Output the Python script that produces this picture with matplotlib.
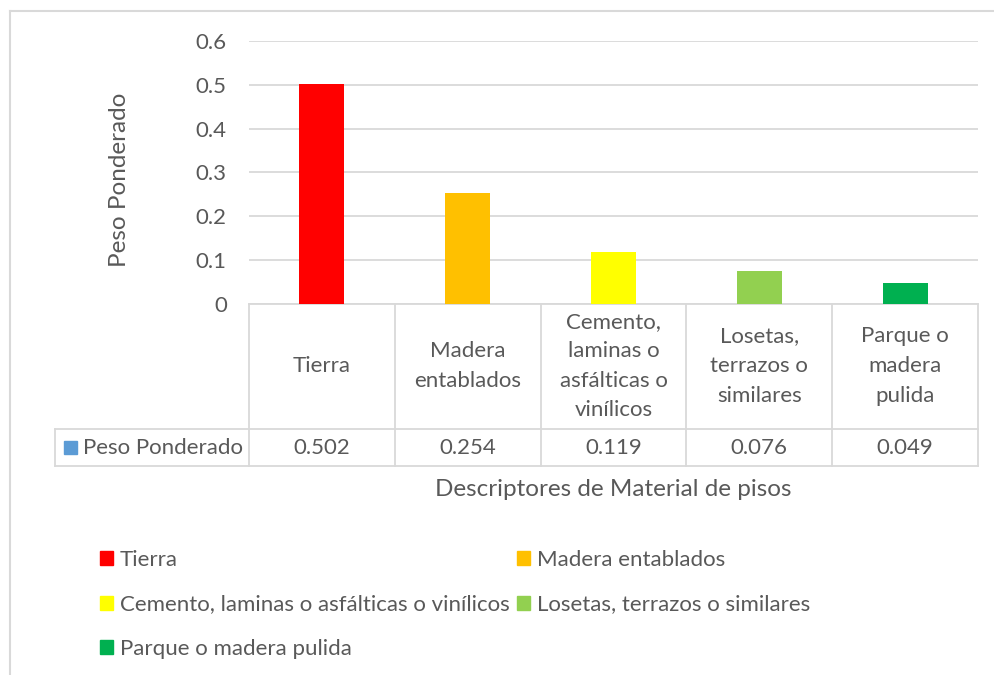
import matplotlib
matplotlib.use("Agg")
import matplotlib.pyplot as plt
from matplotlib.lines import Line2D
from matplotlib.patches import Rectangle, Patch
from matplotlib.transforms import blended_transform_factory

categories = ["Tierra", "Madera\nentablados", "Cemento,\nlaminas o\nasfálticas o\nvinílicos",
              "Losetas,\nterrazos o\nsimilares", "Parque o\nmadera\npulida"]
legend_labels = ["Tierra", "Madera entablados", "Cemento, laminas o asfálticas o vinílicos",
                 "Losetas, terrazos o similares", "Parque o madera pulida"]
values = [0.502, 0.254, 0.119, 0.076, 0.049]
value_labels = ["0.502", "0.254", "0.119", "0.076", "0.049"]
colors = ["#FF0000", "#FFC000", "#FFFF00", "#92D050", "#00B050"]
yticks = [0, 0.1, 0.2, 0.3, 0.4, 0.5, 0.6]
ytick_labels = ["0", "0.1", "0.2", "0.3", "0.4", "0.5", "0.6"]
series_name = "Peso Ponderado"
xlabel = "Descriptores de Material de pisos"
ylabel = "Peso Ponderado"

plt.rcParams['font.family'] = ['Lato', 'DejaVu Sans']
TXT = "#595959"
GRID = "#D9D9D9"
FS = 16
FS_T = 17.5

W, H = 995, 675
fig = plt.figure(figsize=(W / 100, H / 100), dpi=100)
fx = lambda x: x / W
fy = lambda y: 1 - y / H

# outer chart border (left and top visible)
fig.add_artist(Line2D([fx(10), fx(10)], [fy(675), fy(11)], color=GRID, lw=1.5, transform=fig.transFigure))
fig.add_artist(Line2D([fx(10), fx(995)], [fy(11), fy(11)], color=GRID, lw=1.5, transform=fig.transFigure))

ax = fig.add_axes([fx(249), fy(304), (978 - 249) / W, (304 - 41) / H])
x = list(range(len(values)))
ax.bar(x, values, width=0.31, color=colors, zorder=3)
ax.set_xlim(-0.5, len(values) - 0.5)
ax.set_ylim(0, 0.6)
ax.set_yticks(yticks)
ax.set_yticklabels(ytick_labels, fontsize=FS, color=TXT)
ax.set_xticks([])
ax.tick_params(axis='y', length=0, pad=16)
for s in ax.spines.values():
    s.set_visible(False)
ax.yaxis.grid(True, color=GRID, lw=1.3, zorder=0)
ax.set_axisbelow(True)

fig.text(fx(120), fy(180), ylabel, rotation=90, ha='center', va='center', fontsize=FS_T, color=TXT)

# data table
tr = blended_transform_factory(ax.transData, fig.transFigure)
y_top, y_mid, y_bot = fy(304), fy(429), fy(466)
n = len(values)
lw = 1.3
for b in [i - 0.5 for i in range(n + 1)]:
    ax.add_line(Line2D([b, b], [y_bot, y_top], transform=tr, color=GRID, lw=lw, clip_on=False))
ax.add_line(Line2D([-0.5, n - 0.5], [y_top, y_top], transform=tr, color=GRID, lw=lw, clip_on=False))
for yy in (y_mid, y_bot):
    fig.add_artist(Line2D([fx(55), fx(978)], [yy, yy], transform=fig.transFigure, color=GRID, lw=lw))
fig.add_artist(Line2D([fx(55), fx(55)], [y_bot, y_mid], transform=fig.transFigure, color=GRID, lw=lw))

for i in x:
    ax.text(i, fy(366), categories[i], transform=tr, ha='center', va='center',
            fontsize=FS, color=TXT, linespacing=1.6)
    ax.text(i, fy(447.5), value_labels[i], transform=tr, ha='center', va='center',
            fontsize=FS, color=TXT)

fig.add_artist(Rectangle((fx(64), fy(454)), 13 / W, 13 / H, transform=fig.transFigure,
                         color="#5B9BD5"))
fig.text(fx(83), fy(447.5), series_name, ha='left', va='center', fontsize=FS, color=TXT)

fig.text(fx(613), fy(489), xlabel, ha='center', va='center', fontsize=FS_T, color=TXT)

# legend (row-major order emulated)
handles = [Patch(color=c) for c in colors]
order = [0, 2, 4, 1, 3]
leg = fig.legend([handles[i] for i in order], [legend_labels[i] for i in order],
                 ncol=2, loc='upper left', bbox_to_anchor=(fx(89), fy(539)),
                 frameon=False, fontsize=FS, handlelength=0.6, handleheight=0.6,
                 handletextpad=0.3, columnspacing=0.3, labelspacing=1.1, borderpad=0)
for t in leg.get_texts():
    t.set_color(TXT)

fig.savefig("out.png", dpi=100)
